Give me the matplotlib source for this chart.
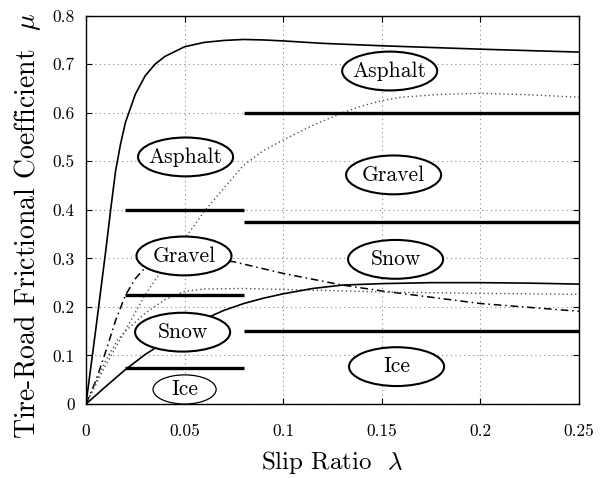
import matplotlib
matplotlib.use("Agg")
import matplotlib.pyplot as plt
from matplotlib.patches import Ellipse

plt.rcParams["font.family"] = "serif"
plt.rcParams["font.serif"] = ["cmr10", "DejaVu Serif"]
plt.rcParams["mathtext.fontset"] = "cm"
plt.rcParams["axes.formatter.use_mathtext"] = True

# Tire-road friction curves mu(lambda)
lam_a = [0, 0.005, 0.01, 0.0125, 0.015, 0.0175, 0.02, 0.025, 0.03, 0.035, 0.04,
         0.05, 0.06, 0.07, 0.08, 0.09, 0.1, 0.12, 0.15, 0.2, 0.25]
mu_a = [0, 0.155, 0.315, 0.40, 0.48, 0.535, 0.58, 0.638, 0.676, 0.70, 0.716,
        0.736, 0.745, 0.749, 0.751, 0.750, 0.748, 0.743, 0.738, 0.731, 0.725]

lam_b = [0, 0.01, 0.02, 0.03, 0.04, 0.05, 0.06, 0.07, 0.08, 0.09, 0.1, 0.115,
         0.13, 0.14, 0.15, 0.16, 0.18, 0.2, 0.225, 0.25]
mu_b = [0, 0.08, 0.152, 0.225, 0.285, 0.34, 0.397, 0.445, 0.492, 0.522, 0.544,
        0.574, 0.60, 0.614, 0.625, 0.632, 0.638, 0.640, 0.637, 0.632]

lam_c = [0, 0.005, 0.01, 0.015, 0.02, 0.025, 0.03, 0.04, 0.05, 0.06, 0.075,
         0.1, 0.13, 0.15, 0.175, 0.2, 0.225, 0.25]
mu_c = [0, 0.048, 0.108, 0.172, 0.224, 0.258, 0.281, 0.298, 0.302, 0.300, 0.293,
        0.269, 0.245, 0.233, 0.220, 0.207, 0.199, 0.191]

lam_d = [0, 0.004, 0.01, 0.016, 0.02, 0.03, 0.04, 0.05, 0.06, 0.08, 0.1, 0.13,
         0.16, 0.2, 0.25]
mu_d = [0, 0.036, 0.09, 0.132, 0.150, 0.187, 0.215, 0.232, 0.237, 0.238, 0.236,
        0.233, 0.230, 0.228, 0.226]

lam_e = [0, 0.01, 0.02, 0.03, 0.04, 0.05, 0.06, 0.07, 0.08, 0.09, 0.1, 0.115,
         0.13, 0.15, 0.175, 0.2, 0.225, 0.25]
mu_e = [0, 0.036, 0.071, 0.102, 0.128, 0.152, 0.175, 0.193, 0.207, 0.218, 0.227,
        0.238, 0.245, 0.248, 0.250, 0.250, 0.249, 0.247]

# Surface classification thresholds
thr_left = [0.40, 0.225, 0.075]
thr_right = [0.60, 0.375, 0.15]
thr_left_span = [0.02, 0.08]
thr_right_span = [0.08, 0.25]

surface_names = ["Asphalt", "Gravel", "Snow", "Ice"]

x_ticks = [0, 0.05, 0.1, 0.15, 0.2, 0.25]
x_tick_labels = ["0", "0.05", "0.1", "0.15", "0.2", "0.25"]
y_ticks = [0, 0.1, 0.2, 0.3, 0.4, 0.5, 0.6, 0.7, 0.8]
y_tick_labels = ["0", "0.1", "0.2", "0.3", "0.4", "0.5", "0.6", "0.7", "0.8"]

fig = plt.figure(figsize=(6.06, 4.78), dpi=100)
ax = fig.add_axes([0.1419, 0.1548, 0.8135, 0.8124])

dot = (0, (1, 2))
ax.plot(lam_a, mu_a, color="black", lw=1.2, ls="-")
ax.plot(lam_b, mu_b, color="#555555", lw=1.0, ls=dot)
ax.plot(lam_c, mu_c, color="black", lw=1.1, ls=(0, (5, 2.5, 1, 2.5)))
ax.plot(lam_d, mu_d, color="#555555", lw=1.0, ls=dot)
ax.plot(lam_e, mu_e, color="black", lw=1.2, ls="-")

for level in thr_left:
    ax.plot(thr_left_span, [level, level], color="black", lw=2.4,
            solid_capstyle="butt")
for level in thr_right:
    ax.plot(thr_right_span, [level, level], color="black", lw=2.4,
            solid_capstyle="butt")

# Region labels, each inside an ellipse
w_big, h_big = 0.0482, 0.080
labels = [
    (0.0505, 0.509, surface_names[0], w_big, h_big, 1.5),
    (0.0497, 0.305, surface_names[1], w_big, h_big, 1.5),
    (0.0490, 0.148, surface_names[2], w_big, h_big, 1.5),
    (0.0500, 0.030, surface_names[3], 0.032, 0.060, 0.9),
    (0.1540, 0.686, surface_names[0], w_big, h_big, 1.5),
    (0.1560, 0.472, surface_names[1], w_big, h_big, 1.5),
    (0.1570, 0.298, surface_names[2], w_big, h_big, 1.5),
    (0.1575, 0.077, surface_names[3], w_big, h_big, 1.5),
]
for x, y, name, w, h, lw in labels:
    ax.add_patch(Ellipse((x, y), w, h, facecolor="white", edgecolor="black",
                         lw=lw, zorder=5))
    ax.text(x, y, name, ha="center", va="center", fontsize=15.5, zorder=6)

ax.set_xlim(0, 0.25)
ax.set_ylim(0, 0.8)
ax.set_xticks(x_ticks)
ax.set_xticklabels(x_tick_labels)
ax.set_yticks(y_ticks)
ax.set_yticklabels(y_tick_labels)
ax.tick_params(direction="in", top=True, right=True, length=4, width=0.8,
               labelsize=12.5, pad=8)
ax.tick_params(axis="x", pad=14)
ax.grid(True, color="#888888", ls=(0, (1, 3)), lw=0.8)
for s in ax.spines.values():
    s.set_linewidth(1.0)

ax.set_xlabel(r"Slip Ratio  $\lambda$", fontsize=18, labelpad=7)
ax.set_ylabel(r"Tire-Road Frictional Coefficient  $\mu$", fontsize=20)
ax.yaxis.set_label_coords(-0.088, 0.46)

fig.savefig("out.png", dpi=100)
